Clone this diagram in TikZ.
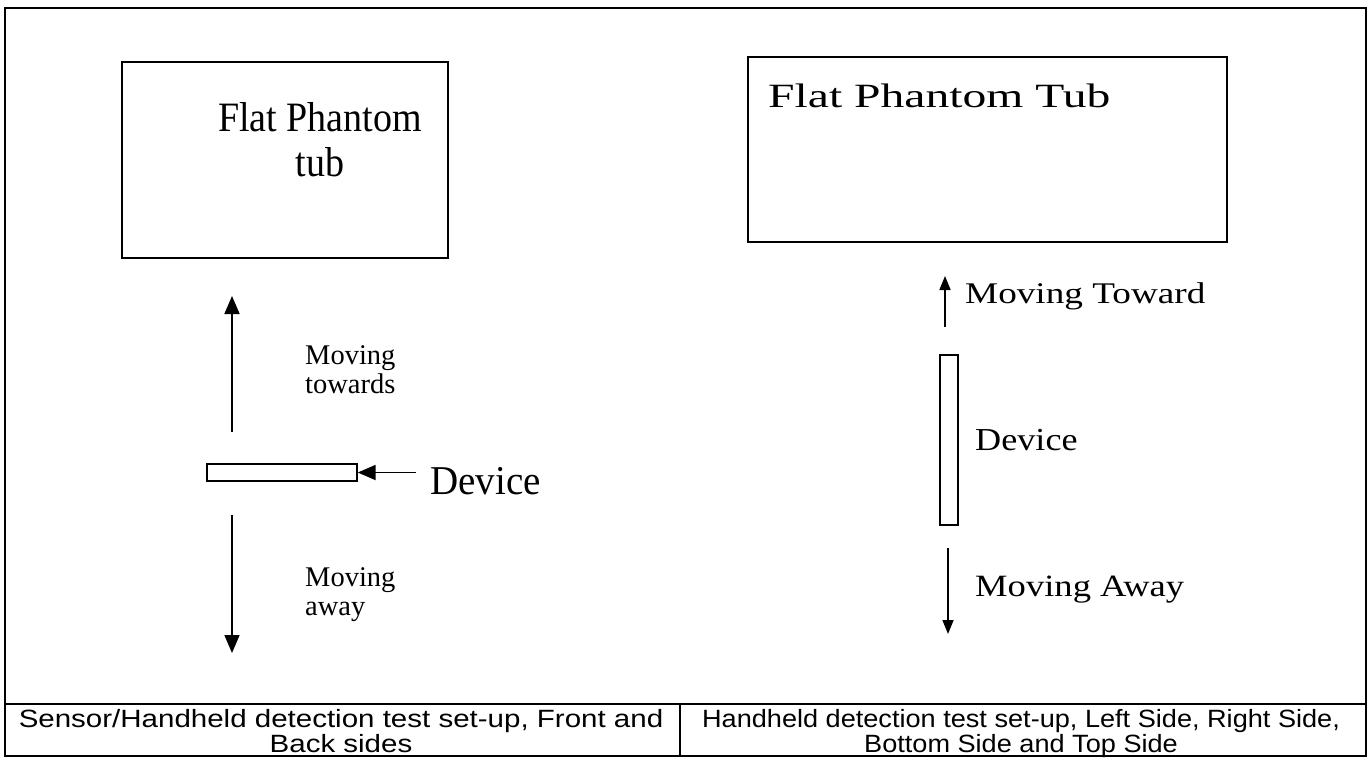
\documentclass[tikz,border=0pt]{standalone}
\usepackage{fontspec}
\setmainfont{Liberation Serif}
\newfontfamily\capfont{Liberation Sans}
\usetikzlibrary{arrows.meta}
\begin{document}
\begin{tikzpicture}[x=1pt,y=-1pt,
  frame/.style={draw,line width=2pt},
  boxs/.style={draw,line width=1.4pt},
  arrbig/.style={line width=1.8pt,-{Triangle[width=15pt,length=18pt]}},
  arrsm/.style={line width=1.6pt,-{Triangle[width=11pt,length=14pt]}},
  lbl/.style={inner sep=0pt,anchor=base west},
  ctr/.style={inner sep=0pt,anchor=base},
  mv/.style={lbl,font=\fontsize{28.5}{28.5}\selectfont},
  capt/.style={inner sep=0pt,anchor=base,font=\capfont\fontsize{25}{25}\selectfont},
]
\useasboundingbox (0,0) rectangle (1370,758);
% frame
\draw[frame] (5,8) rectangle (1366,756);
\draw[frame] (5,704) coordinate (sepL) -- (1366,704) coordinate (sepR);
\draw[line width=1.6pt] (680,704) coordinate (divT) -- (680,756) coordinate (divB);

% ---------- left panel ----------
\draw[boxs] (122,62) rectangle (448,258);
\node[ctr,font=\fontsize{38}{38}\selectfont] (tL1) at (320,131) {\scalebox{1}[1.1]{Flat Phantom}};
\node[ctr,font=\fontsize{38}{38}\selectfont] (tL2) at (320,176) {\scalebox{1}[1.1]{tub}};

\coordinate (upLtail) at (232,432);
\coordinate (upLtip) at (232,296);
\draw[arrbig] (upLtail) -- (upLtip);
\node[mv] (mtL1) at (305,364) {Moving};
\node[mv] (mtL2) at (305,393) {towards};

\node[boxs,minimum width=150pt,minimum height=17pt,inner sep=0pt] (devL) at (282,472.5) {};
\node[lbl,font=\fontsize{39}{39}\selectfont] (devLtxt) at (430,494) {\scalebox{1}[1.05]{Device}};
\coordinate (devLarr) at (416,472.5);
\draw[arrbig] (devLarr) -- (devL.east);

\coordinate (dnLtail) at (232,515);
\coordinate (dnLtip) at (232,653);
\draw[arrbig] (dnLtail) -- (dnLtip);
\node[mv] (maL1) at (305,586) {Moving};
\node[mv] (maL2) at (305,615) {away};

% ---------- right panel ----------
\draw[boxs] (748,57) rectangle (1227,242);
\node[lbl,font=\fontsize{34}{34}\selectfont] (tR) at (768,107) {\scalebox{1.4}[1]{Flat Phantom Tub}};

\coordinate (upRtail) at (945,327);
\coordinate (upRtip) at (945,276);
\draw[arrsm] (upRtail) -- (upRtip);
\node[lbl,font=\fontsize{30}{30}\selectfont] (mtR) at (965,303) {\scalebox{1.24}[1]{Moving Toward}};

\node[boxs,minimum width=18pt,minimum height=170pt,inner sep=0pt] (devR) at (949,440) {};
\node[lbl,font=\fontsize{32}{32}\selectfont] (devRtxt) at (975,450) {\scalebox{1.13}[1]{Device}};

\coordinate (dnRtail) at (948,548);
\coordinate (dnRtip) at (948,634);
\draw[arrsm] (dnRtail) -- (dnRtip);
\node[lbl,font=\fontsize{31}{31}\selectfont] (maR) at (975,596) {\scalebox{1.18}[1]{Moving Away}};

% ---------- captions ----------
\node[capt] (c1a) at (341,727) {\scalebox{1.18}[1]{Sensor/Handheld detection test set-up, Front and}};
\node[capt] (c1b) at (341,752) {\scalebox{1.18}[1]{Back sides}};
\node[capt] (c2a) at (1021,727) {\scalebox{1.085}[1]{Handheld detection test set-up, Left Side, Right Side,}};
\node[capt] (c2b) at (1021,752) {\scalebox{1.085}[1]{Bottom Side and Top Side}};
\end{tikzpicture}
\end{document}
